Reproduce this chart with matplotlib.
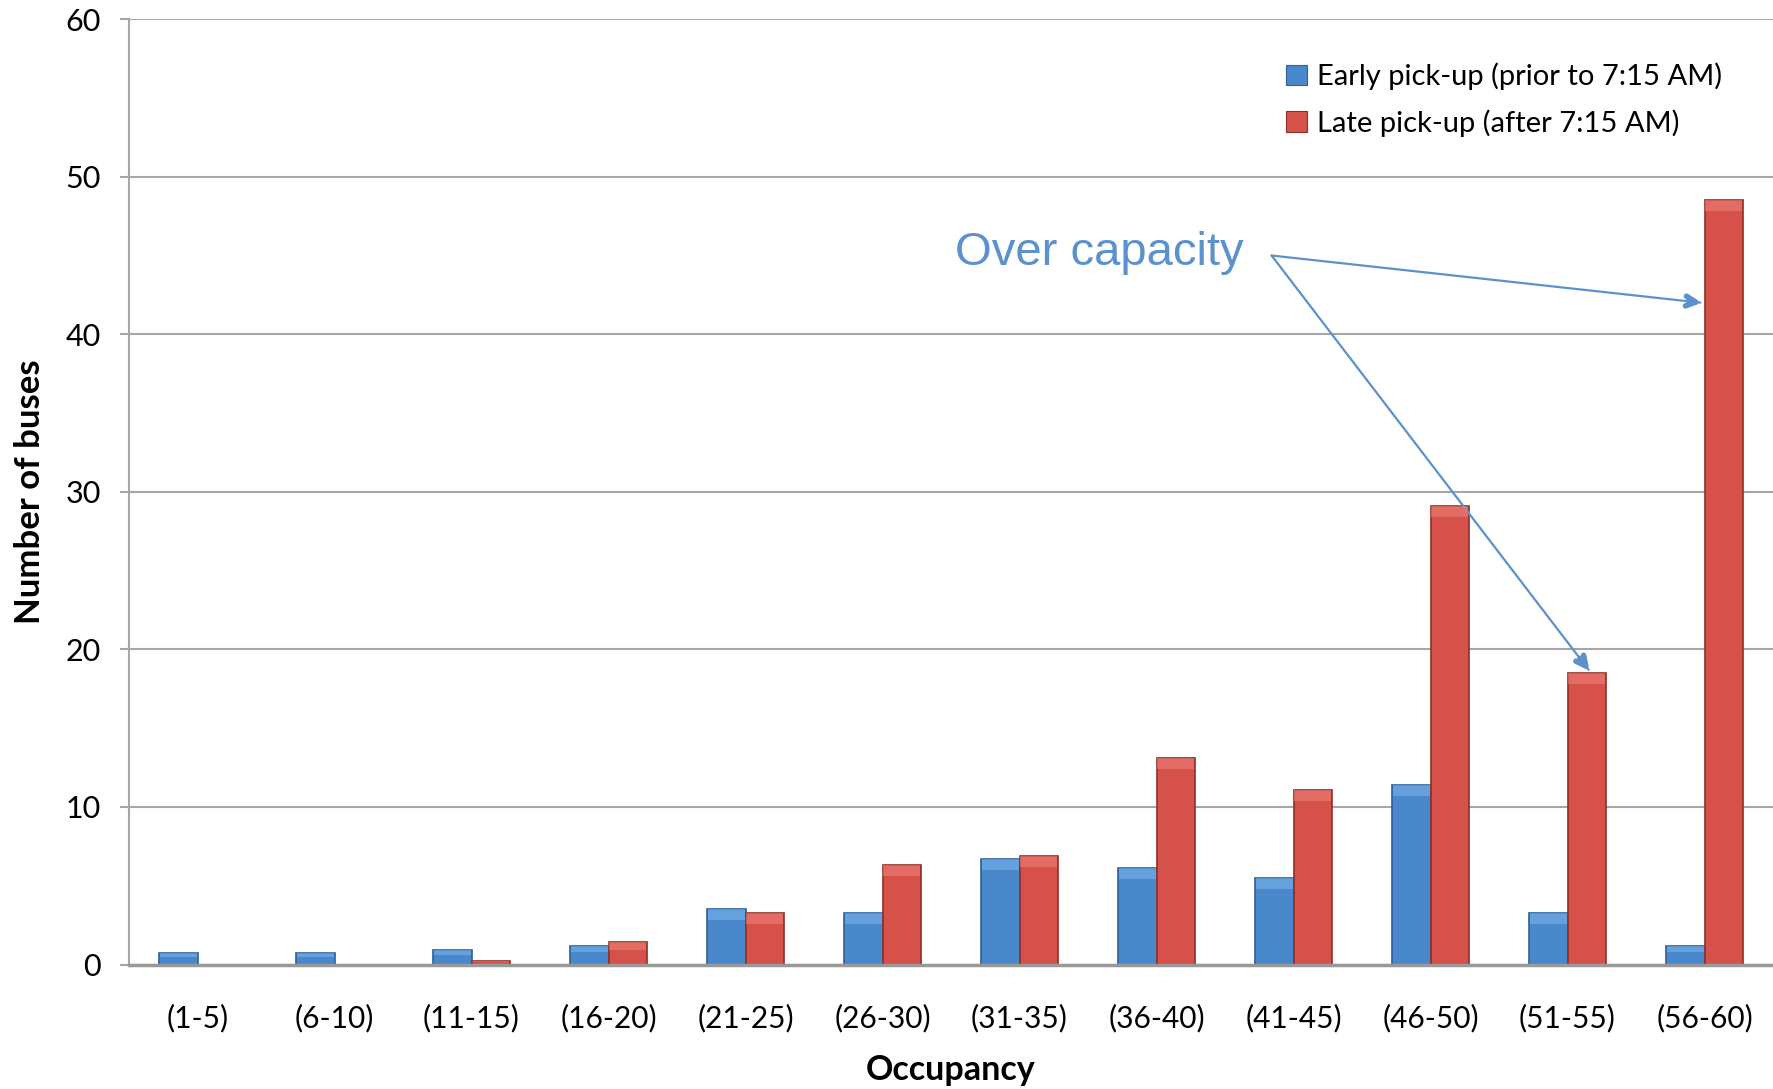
import numpy as np
import matplotlib
matplotlib.use("Agg")
import matplotlib.pyplot as plt

# occupancy bins and bus counts
categories = ["(1-5)", "(6-10)", "(11-15)", "(16-20)", "(21-25)", "(26-30)",
              "(31-35)", "(36-40)", "(41-45)", "(46-50)", "(51-55)", "(56-60)"]
early = [0.7, 0.7, 0.9, 1.2, 3.5, 3.3, 6.7, 6.1, 5.5, 11.4, 3.3, 1.2]
late = [0.0, 0.0, 0.25, 1.4, 3.3, 6.3, 6.9, 13.1, 11.1, 29.1, 18.5, 48.5]
y_ticks = [0, 10, 20, 30, 40, 50, 60]

early_label = "Early pick-up (prior to 7:15 AM)"
late_label = "Late pick-up (after 7:15 AM)"

BLUE = "#4a88cc"
BLUE_EDGE = "#2f6098"
BLUE_TOP = "#7ab6ee"
RED = "#d5514a"
RED_EDGE = "#8f2f29"
RED_TOP = "#f0837a"
GRID = "#a6a6a6"
NOTE = "#5b91cd"


def _draw_bars(ax, x, values, color, edge, top, label):
    """
    Draw one series with a light bevel band on top of each bar.
    """
    width = 0.28
    vals = np.asarray(values, dtype=float)
    ax.bar(x, vals, width, color=color, edgecolor=edge, linewidth=1.2,
           label=label, zorder=3)
    band = np.minimum(0.7, vals * 0.35)
    ax.bar(x, band, width * 0.96, bottom=vals - band, color=top,
           linewidth=0, alpha=0.55, zorder=4)


def main() -> None:
    plt.rcParams["font.family"] = ["Lato", "DejaVu Sans"]

    fig = plt.figure(figsize=(17.73, 10.89), dpi=100)
    ax = fig.add_axes([0.0728, 0.1143, 0.9272, 0.8681])

    x = np.arange(len(categories))
    _draw_bars(ax, x - 0.14, early, BLUE, BLUE_EDGE, BLUE_TOP, early_label)
    _draw_bars(ax, x + 0.14, late, RED, RED_EDGE, RED_TOP, late_label)

    ax.set_xlim(-0.5, len(categories) - 0.5)
    ax.set_ylim(0, 60)
    ax.set_yticks(y_ticks)
    ax.set_xticks(x)
    ax.set_xticklabels(categories)

    ax.grid(axis="y", color=GRID, linewidth=1.5, zorder=0)
    ax.set_axisbelow(True)
    for side in ("top", "right"):
        ax.spines[side].set_visible(False)
    ax.spines["left"].set_color(GRID)
    ax.spines["left"].set_linewidth(1.5)
    ax.spines["bottom"].set_color("#999999")
    ax.spines["bottom"].set_linewidth(2.5)
    ax.spines["bottom"].set_zorder(5)

    ax.tick_params(axis="y", length=6.5, width=1.5, color=GRID,
                   labelsize=22, pad=14)
    ax.tick_params(axis="x", length=0, labelsize=21.5, pad=28)

    ax.set_ylabel("Number of buses", fontsize=25, fontweight="bold",
                  labelpad=14)
    ax.set_xlabel("Occupancy", fontsize=24.5, fontweight="bold", labelpad=16)

    leg = ax.legend(loc="upper right", bbox_to_anchor=(0.985, 0.982),
                    frameon=False, fontsize=21, handlelength=0.7,
                    handleheight=0.7, handletextpad=0.35, labelspacing=0.65)
    for handle in leg.legend_handles:
        handle.set_linewidth(0.8)

    ax.text(5.53, 44.4, "Over capacity", color=NOTE, fontsize=34,
            family="Liberation Sans", ha="left", va="baseline")

    start = (7.84, 45.0)
    targets = [(10.98, 42.0), (10.16, 18.64)]
    for tx, ty in targets:
        ax.annotate("", xy=(tx, ty), xytext=start,
                    arrowprops=dict(arrowstyle="-", color=NOTE, lw=1.6,
                                    shrinkA=0, shrinkB=1))
        bx = tx - (tx - start[0]) * 0.03
        by = ty - (ty - start[1]) * 0.03
        ax.annotate("", xy=(tx, ty), xytext=(bx, by),
                    arrowprops=dict(arrowstyle="->,head_length=0.7,head_width=0.35",
                                    color=NOTE, lw=4, shrinkA=0, shrinkB=0))

    fig.savefig("out.png", dpi=100)


if __name__ == "__main__":
    main()
